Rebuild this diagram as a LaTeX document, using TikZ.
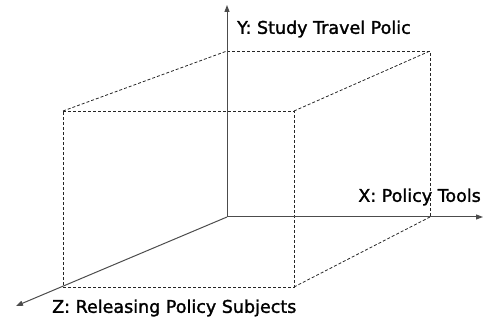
\documentclass[tikz,border=0pt]{standalone}
\usepackage{fontspec}
\setmainfont{DejaVu Sans}
\newfontfamily\labelfont{DejaVu Sans}[FakeBold=1.6]
\usepackage{tikz}
\usetikzlibrary{arrows.meta}

\tikzset{
  axis/.style={draw=black!70, line width=1pt, -{Triangle[length=7pt,width=5pt]}},
  edge/.style={draw=black!85, dashed, dash pattern=on 3pt off 2pt, line width=0.8pt},
  axislabel/.style={font=\labelfont\fontsize{17.5}{20}\selectfont, inner sep=0pt}
}

\begin{document}
\begin{tikzpicture}[x=1pt, y=-1pt]
\useasboundingbox (0,0) rectangle (483,320);
% origin and axis ends
\coordinate (O) at (227,217);
\coordinate (Yend) at (227,5);
\coordinate (Xend) at (483,217);
\coordinate (Zend) at (16,306);
% corners of the box
\coordinate (bt-l) at (227,51);
\coordinate (bt-r) at (430,51);
\coordinate (bb-r) at (430,217);
\coordinate (ft-l) at (63,111);
\coordinate (ft-r) at (294,111);
\coordinate (fb-l) at (63,287);
\coordinate (fb-r) at (294,287);

% dashed box
\draw[edge] (bt-l) -- (bt-r) -- (bb-r);
\draw[edge] (ft-l) -- (ft-r) -- (fb-r) -- (fb-l) -- cycle;
\draw[edge] (ft-l) -- (bt-l);
\draw[edge] (ft-r) -- (bt-r);
\draw[edge] (fb-r) -- (bb-r);

% axes
\draw[axis] (O) -- (Yend);
\draw[axis] (O) -- (Xend);
\draw[axis] (O) -- (Zend);

\node (ylabel) [axislabel, anchor=west] at (237,29) {Y: Study Travel Polic};
\node (xlabel) [axislabel, anchor=east] at (481,197) {X: Policy Tools};
\node (zlabel) [axislabel, anchor=west] at (52,308) {Z: Releasing Policy Subjects};
\end{tikzpicture}
\end{document}
